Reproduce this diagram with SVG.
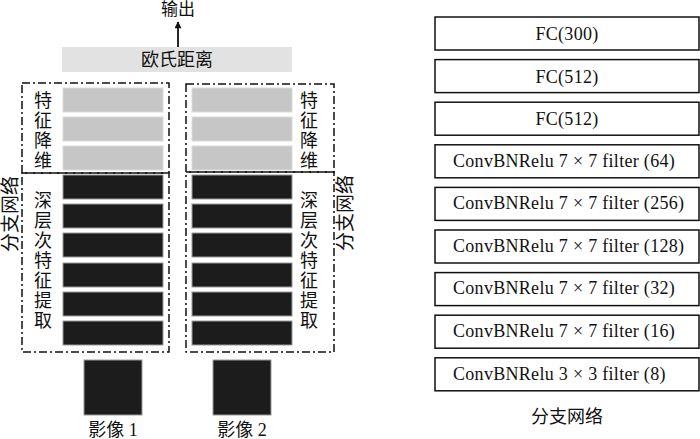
<svg xmlns="http://www.w3.org/2000/svg" width="700" height="439" viewBox="0 0 700 439">
<style>
.cn{font-family:"Liberation Serif","Noto Sans CJK SC",serif;fill:#111;}
.en{font-family:"Liberation Serif","Noto Sans CJK SC",serif;fill:#111;font-size:18px;letter-spacing:0.3px;}
.gray{fill:#c6c6c6;stroke:#dadada;stroke-width:1;}
.dark{fill:#1c1c1c;stroke:#9a9a9a;stroke-width:1;}
.dd{fill:none;stroke:#111;stroke-width:1.5;stroke-dasharray:8 3 2 3;}
.box{fill:#fff;stroke:#111;stroke-width:1.5;}
</style>
<defs>
<marker id="ah" viewBox="0 0 10 10" refX="9" refY="5" markerWidth="8" markerHeight="7" orient="auto" markerUnits="userSpaceOnUse">
<path d="M0,0 L10,5 L0,10 z" fill="#111"/>
</marker>
</defs>
<rect width="700" height="439" fill="#fff"/>

<g id="output">
<text class="cn" x="178" y="15" font-size="17" text-anchor="middle">输出</text>
</g>
<g id="connectors">
<line x1="178" y1="47" x2="178" y2="22" stroke="#111" stroke-width="1.8" marker-end="url(#ah)"/>
</g>

<g id="euclid">
<rect x="62" y="47" width="230" height="25" fill="#e2e2e2"/>
<text class="cn" x="177" y="66" font-size="18" text-anchor="middle">欧氏距离</text>
</g>

<g id="branch1">
<rect class="dd" x="22" y="83" width="147" height="90"/>
<rect class="dd" x="22" y="173" width="147" height="179"/>
<rect class="gray" x="63" y="88" width="100" height="24"/>
<rect class="gray" x="63" y="117" width="100" height="24"/>
<rect class="gray" x="63" y="146" width="100" height="24"/>
<rect class="dark" x="63" y="175" width="100" height="24"/>
<rect class="dark" x="63" y="204" width="100" height="24"/>
<rect class="dark" x="63" y="233" width="100" height="24"/>
<rect class="dark" x="63" y="263" width="100" height="24"/>
<rect class="dark" x="63" y="292" width="100" height="24"/>
<rect class="dark" x="63" y="321" width="100" height="24"/>
<g class="cn" font-size="18" text-anchor="middle">
<text x="43" y="107">特</text><text x="43" y="127">征</text><text x="43" y="147">降</text><text x="43" y="167">维</text>
<text x="43" y="207">深</text><text x="43" y="227">层</text><text x="43" y="247">次</text><text x="43" y="267">特</text><text x="43" y="287">征</text><text x="43" y="307">提</text><text x="43" y="327">取</text>
</g>
<text class="cn" font-size="19" text-anchor="middle" transform="translate(17,214) rotate(-90)">分支网络</text>
</g>

<g id="branch2">
<rect class="dd" x="186" y="84" width="148" height="88"/>
<rect class="dd" x="186" y="172" width="148" height="180"/>
<rect class="gray" x="192" y="88" width="100" height="24"/>
<rect class="gray" x="192" y="117" width="100" height="24"/>
<rect class="gray" x="192" y="146" width="100" height="24"/>
<rect class="dark" x="192" y="175" width="100" height="24"/>
<rect class="dark" x="192" y="204" width="100" height="24"/>
<rect class="dark" x="192" y="233" width="100" height="24"/>
<rect class="dark" x="192" y="263" width="100" height="24"/>
<rect class="dark" x="192" y="292" width="100" height="24"/>
<rect class="dark" x="192" y="321" width="100" height="24"/>
<g class="cn" font-size="18" text-anchor="middle">
<text x="309" y="107">特</text><text x="309" y="127">征</text><text x="309" y="147">降</text><text x="309" y="167">维</text>
<text x="309" y="207">深</text><text x="309" y="227">层</text><text x="309" y="247">次</text><text x="309" y="267">特</text><text x="309" y="287">征</text><text x="309" y="307">提</text><text x="309" y="327">取</text>
</g>
<text class="cn" font-size="19" text-anchor="middle" transform="translate(352,213) rotate(-90)">分支网络</text>
</g>

<g id="image1">
<rect x="84" y="360" width="58" height="55" fill="#1c1c1c" stroke="#9a9a9a" stroke-width="1"/>
<text class="cn" x="113" y="436" font-size="18" text-anchor="middle">影像 1</text>
</g>
<g id="image2">
<rect x="213" y="360" width="58" height="55" fill="#1c1c1c" stroke="#9a9a9a" stroke-width="1"/>
<text class="cn" x="242" y="436" font-size="18" text-anchor="middle">影像 2</text>
</g>

<g id="layers">
<g id="l1"><rect class="box" x="435" y="17" width="264" height="33"/><text class="en" x="567" y="40" text-anchor="middle">FC(300)</text></g>
<g id="l2"><rect class="box" x="435" y="59.6" width="264" height="33"/><text class="en" x="567" y="82.6" text-anchor="middle">FC(512)</text></g>
<g id="l3"><rect class="box" x="435" y="102.2" width="264" height="33"/><text class="en" x="567" y="125.2" text-anchor="middle">FC(512)</text></g>
<g id="l4"><rect class="box" x="435" y="144.8" width="264" height="33"/><text class="en" x="453" y="166.5">ConvBNRelu 7 × 7 filter (64)</text></g>
<g id="l5"><rect class="box" x="435" y="187.4" width="264" height="33"/><text class="en" x="453" y="209.1">ConvBNRelu 7 × 7 filter (256)</text></g>
<g id="l6"><rect class="box" x="435" y="230" width="264" height="33"/><text class="en" x="453" y="251.7">ConvBNRelu 7 × 7 filter (128)</text></g>
<g id="l7"><rect class="box" x="435" y="272.6" width="264" height="33"/><text class="en" x="453" y="294.3">ConvBNRelu 7 × 7 filter (32)</text></g>
<g id="l8"><rect class="box" x="435" y="315.2" width="264" height="33"/><text class="en" x="453" y="336.9">ConvBNRelu 7 × 7 filter (16)</text></g>
<g id="l9"><rect class="box" x="435" y="357.8" width="264" height="33"/><text class="en" x="453" y="379.5">ConvBNRelu 3 × 3 filter (8)</text></g>
<text class="cn" x="567" y="423" font-size="18" text-anchor="middle">分支网络</text>
</g>
</svg>
